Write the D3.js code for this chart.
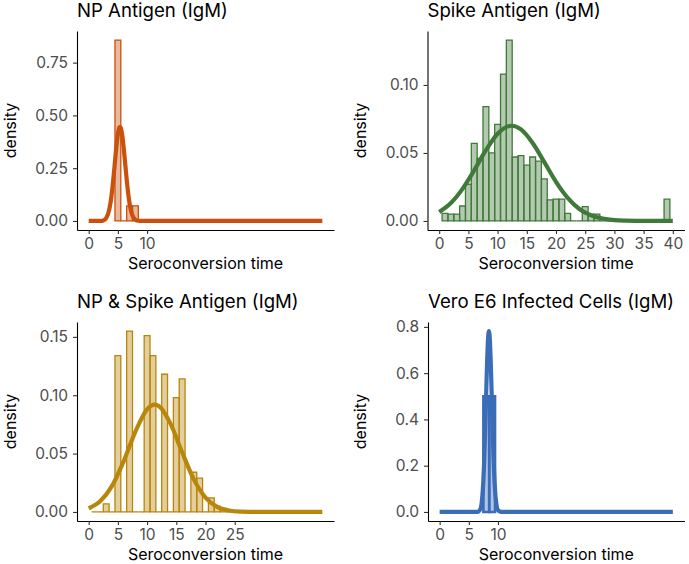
<!DOCTYPE html>
<html><head><meta charset="utf-8">
<script src="https://cdn.jsdelivr.net/npm/d3@7"></script>
<style>
body{margin:0;background:#fff}
svg{display:block;font-family:Inter,"Noto Sans",sans-serif}
</style>
</head><body><svg id="c" width="689" height="564"></svg>
<script>
// ---------------- data ----------------
const titles = ["NP Antigen (IgM)", "Spike Antigen (IgM)", "NP & Spike Antigen (IgM)", "Vero E6 Infected Cells (IgM)"];
const xLabel = "Seroconversion time";
const yLabel = "density";

const npBins = [5, 6, 7, 8];
const npDensity = [0.857, 0, 0.0714, 0.0714];
const npCurveX = [0, 1, 2, 2.5, 3, 3.5, 3.75, 4, 4.25, 4.5, 4.75, 5, 5.25, 5.36, 5.5, 5.75, 6, 6.25, 6.5, 6.75, 7, 7.25, 7.5, 8, 8.5, 9, 10, 20, 30, 40];
const npCurveY = [0, 0, 0.0004, 0.0027, 0.0138, 0.0514, 0.0884, 0.1406, 0.2067, 0.281, 0.3535, 0.411, 0.4427, 0.446, 0.4406, 0.4056, 0.345, 0.272, 0.198, 0.1335, 0.0832, 0.048, 0.0256, 0.0058, 0.001, 0.0001, 0, 0, 0, 0];
const npXTicks = [0, 5, 10];
const npYTicks = [0, 0.25, 0.5, 0.75];

const spikeBins = [1, 2, 3, 4, 5, 6, 7, 8, 9, 10, 11, 12, 13, 14, 15, 16, 17, 18, 19, 20, 21, 22, 23, 24, 25, 26, 27, 28, 29, 30, 31, 32, 33, 34, 35, 36, 37, 38, 39];
const spikeDensity = [0.0056, 0.0050, 0.0050, 0.011, 0.027, 0.057, 0.046, 0.084, 0.050, 0.071, 0.108, 0.133, 0.047, 0.048, 0.041, 0.047, 0.044, 0.031, 0.0155, 0.016, 0.016, 0.0056, 0, 0, 0.0105, 0.005, 0.005, 0, 0, 0, 0, 0, 0, 0, 0, 0, 0, 0, 0.016];
const spikeCurveX = [0, 2, 4, 6, 8, 10, 12, 12.4, 14, 16, 18, 20, 22, 24, 26, 28, 30, 32, 34, 36, 38, 40];
const spikeCurveY = [0.0066, 0.0132, 0.0236, 0.0373, 0.052, 0.0641, 0.0698, 0.07, 0.0673, 0.0573, 0.0432, 0.0288, 0.017, 0.0088, 0.0041, 0.0017, 0.0006, 0.0002, 0.00005, 0, 0, 0];
const spikeXTicks = [0, 5, 10, 15, 20, 25, 30, 35, 40];
const spikeYTicks = [0, 0.05, 0.1];

const mixBins = [1, 2, 3, 4, 5, 6, 7, 8, 9, 10, 11, 12, 13, 14, 15, 16, 17, 18, 19, 20, 21, 22, 23, 24];
const mixDensity = [0, 0, 0.007, 0, 0.134, 0, 0.155, 0, 0, 0.151, 0.134, 0, 0.118, 0, 0.098, 0.114, 0, 0.034, 0.029, 0, 0.012, 0.005, 0.003, 0];
const mixCurveX = [0, 2, 4, 6, 8, 10, 11.3, 12, 14, 16, 18, 20, 22, 24, 26, 28, 30, 35, 40];
const mixCurveY = [0.0031, 0.0093, 0.0223, 0.0436, 0.0688, 0.0879, 0.0919, 0.0907, 0.0757, 0.0511, 0.0279, 0.0123, 0.0044, 0.0013, 0.0003, 0.0001, 0, 0, 0];
const mixXTicks = [0, 5, 10, 15, 20, 25];
const mixYTicks = [0, 0.05, 0.1, 0.15];

const veroBins = [8, 9];
const veroDensity = [0.5, 0.5];
const veroCurveX = [0, 5, 6, 6.5, 7, 7.25, 7.5, 7.625, 7.75, 7.875, 8, 8.125, 8.25, 8.35, 8.45, 8.55, 8.65, 8.75, 8.875, 9, 9.125, 9.25, 9.375, 9.5, 9.75, 10, 10.5, 11, 20, 30, 40];
const veroCurveY = [0, 0, 0, 0.0005, 0.0137, 0.049, 0.138, 0.211, 0.305, 0.414, 0.53, 0.638, 0.724, 0.767, 0.782, 0.767, 0.724, 0.658, 0.553, 0.437, 0.326, 0.229, 0.151, 0.094, 0.03, 0.0077, 0.0002, 0, 0, 0, 0];
const veroXTicks = [0, 5, 10];
const veroYTicks = [0, 0.2, 0.4, 0.6, 0.8];

// ---------------- layout / style ----------------
const colors = ["#C9510C", "#407A3A", "#B8860B", "#3A6CB8"];
const panels = [
  {title: titles[0], bins: npBins, dens: npDensity, cx: npCurveX, cy: npCurveY, xt: npXTicks, yt: npYTicks, fmt: ".2f", color: colors[0], L: 77, R: 334, T: 31, B: 230, barW: 1.3, ylabX: 16},
  {title: titles[1], bins: spikeBins, dens: spikeDensity, cx: spikeCurveX, cy: spikeCurveY, xt: spikeXTicks, yt: spikeYTicks, fmt: ".2f", color: colors[1], L: 427.5, R: 684.5, T: 31, B: 230, barW: 1.3, ylabX: 366},
  {title: titles[2], bins: mixBins, dens: mixDensity, cx: mixCurveX, cy: mixCurveY, xt: mixXTicks, yt: mixYTicks, fmt: ".2f", color: colors[2], L: 77, R: 334, T: 322, B: 521, barW: 1.3, ylabX: 16},
  {title: titles[3], bins: veroBins, dens: veroDensity, cx: veroCurveX, cy: veroCurveY, xt: veroXTicks, yt: veroYTicks, fmt: ".1f", color: colors[3], L: 428, R: 684.5, T: 322, B: 521, barW: 2.6, ylabX: 366}
];

const svg = d3.select("#c");

panels.forEach(p => {
  const g = svg.append("g");
  const xExt = d3.extent(p.cx);
  const xPad = (xExt[1] - xExt[0]) * 0.05;
  const x = d3.scaleLinear().domain([xExt[0] - xPad, xExt[1] + xPad]).range([p.L, p.R]);
  const yMax = Math.max(d3.max(p.dens), d3.max(p.cy));
  const y = d3.scaleLinear().domain([-0.05 * yMax, 1.05 * yMax]).range([p.B, p.T]);

  // bars
  g.append("g").selectAll("path").data(p.bins.map((b, i) => ({b, d: p.dens[i]}))).join("path")
    .attr("d", d => {
      const xa = x(d.b - 0.5), xb = x(d.b + 0.5), y0 = y(0), y1 = y(d.d);
      return `M${xa},${y0}V${y1}H${xb}V${y0}Z`;
    })
    .attr("fill", p.color).attr("fill-opacity", 0.4)
    .attr("stroke", p.color).attr("stroke-width", p.barW);

  // fitted curve
  const line = d3.line().x(d => x(d[0])).y(d => y(d[1])).curve(d3.curveMonotoneX);
  g.append("path").datum(p.cx.map((v, i) => [v, p.cy[i]]))
    .attr("d", line).attr("fill", "none").attr("stroke", p.color)
    .attr("stroke-width", 4.2).attr("stroke-linejoin", "round");

  // axes
  const xa = g.append("g").attr("transform", `translate(0,${p.B})`)
    .call(d3.axisBottom(x).tickValues(p.xt).tickFormat(d3.format("d")).tickSize(4).tickSizeOuter(0).tickPadding(4));
  const ya = g.append("g").attr("transform", `translate(${p.L},0)`)
    .call(d3.axisLeft(y).tickValues(p.yt).tickFormat(d3.format(p.fmt)).tickSize(4).tickSizeOuter(0).tickPadding(5));
  [xa, ya].forEach(a => {
    a.select(".domain").attr("stroke", "#000").attr("stroke-width", 1.1);
    a.selectAll(".tick line").attr("stroke", "#333").attr("stroke-width", 1.1);
    a.selectAll(".tick text").attr("fill", "#4d4d4d").attr("font-size", 15.5).attr("font-family", "Inter, 'Noto Sans', sans-serif");
  });

  // titles
  g.append("text").attr("x", p.L).attr("y", p.T - 14).attr("font-size", 18.6).attr("fill", "#000").text(p.title);
  g.append("text").attr("x", (p.L + p.R) / 2).attr("y", p.B + 39).attr("text-anchor", "middle")
    .attr("font-size", 16).attr("fill", "#000").text(xLabel);
  g.append("text").attr("transform", `translate(${p.ylabX},${(p.T + p.B) / 2}) rotate(-90)`)
    .attr("text-anchor", "middle").attr("font-size", 16).attr("fill", "#000").text(yLabel);
});
</script>
</body></html>
